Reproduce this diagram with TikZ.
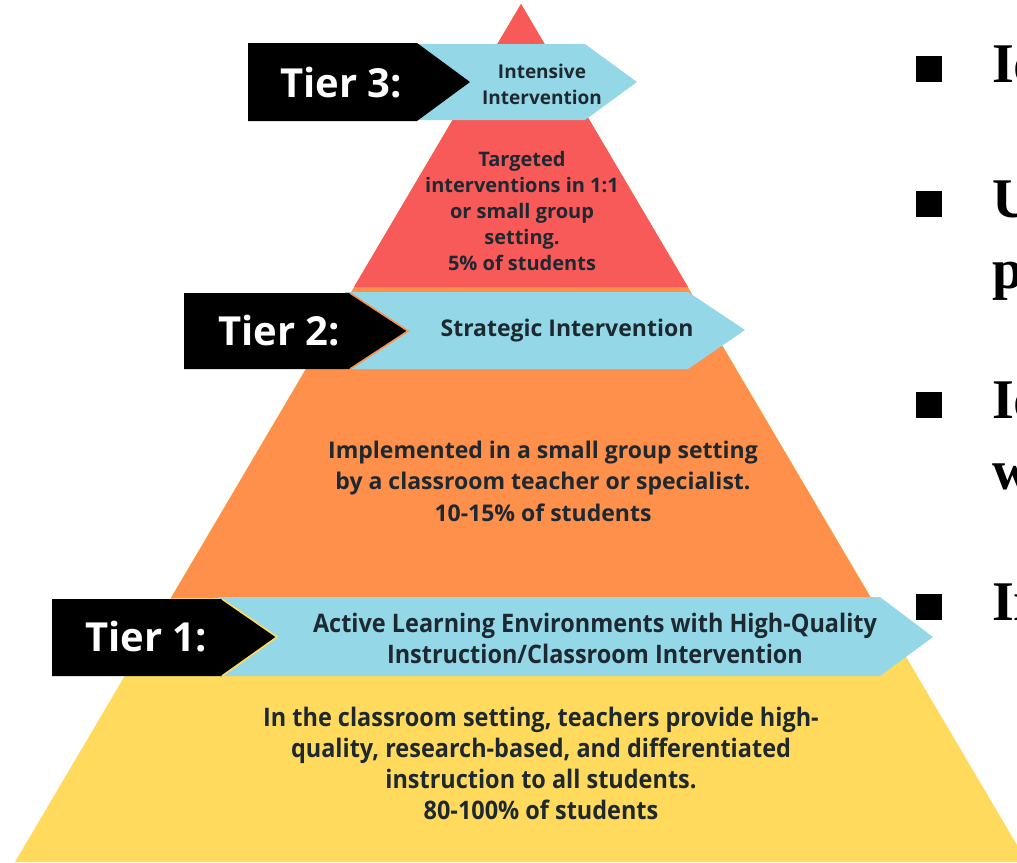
\documentclass[tikz,border=0pt]{standalone}
\usepackage{fontspec}
\setmainfont{Liberation Serif}
\newfontfamily\osf{Open Sans}
\newfontfamily\oscf[FakeStretch=0.92]{Open Sans}
\definecolor{pyrred}{RGB}{248,90,90}
\definecolor{pyrorange}{RGB}{254,144,76}
\definecolor{pyryellow}{RGB}{255,218,92}
\definecolor{bandblue}{RGB}{148,216,232}
\definecolor{txtdark}{RGB}{30,40,48}
\tikzset{
  band/.style={fill=bandblue, draw=none},
  chevron/.style={fill=black, draw=none},
  tipedge/.style={line width=1.6pt, line join=miter},
  tierlabel/.style={font=\osf\bfseries\fontsize{40}{44}\selectfont, text=white, inner sep=0pt},
  pyrtext/.style={text=txtdark, align=center, inner sep=0pt},
  redtxt/.style={pyrtext, font=\osf\bfseries\fontsize{20}{26}\selectfont},
  orangetxt/.style={pyrtext, font=\osf\bfseries\fontsize{23}{31.5}\selectfont},
  condtxt/.style={pyrtext, font=\oscf\bfseries\fontsize{25.5}{31}\selectfont},
  bullet/.style={fill=black, draw=none},
  sidetxt/.style={font=\bfseries\fontsize{56}{60}\selectfont, text=black, inner sep=0pt, anchor=base west},
}
\begin{document}
\begin{tikzpicture}[x=1pt, y=-1pt]
\useasboundingbox (0,0) rectangle (1017,862);
\clip (0,0) rectangle (1017,862);
% pyramid layers
\fill[pyryellow] (521,4) -- (15,862) -- (1027,862) -- cycle;
\fill[pyrorange] (521,4) -- (171,598) -- (871,598) -- cycle;
\fill[pyrred] (521,4) -- (354,287) -- (688,287) -- cycle;
% Tier 3
\fill[band] (410,44) -- (585,44) -- (637,82) -- (585,120) -- (410,120) -- cycle;
\fill[chevron] (248,43) -- (417,43) -- (470,82) -- (417,121) -- (248,121) -- cycle;
\node[tierlabel] (t3) at (341,83) {Tier 3:};
\node[redtxt, font=\osf\bfseries\fontsize{19}{26}\selectfont] (t3band) at (542,84) {Intensive\\Intervention};
\node[redtxt] (t3desc) at (522,211) {Targeted\\interventions in 1:1\\or small group\\setting.\\5\% of students};
% Tier 2
\fill[band] (345,292) -- (688,292) -- (745,330) -- (688,369) -- (345,369) -- cycle;
\fill[chevron] (184,293) -- (350,293) -- (408,331) -- (350,369) -- (184,369) -- cycle;
\draw[tipedge, draw=pyrorange] (350,293) -- (408,331) -- (350,369);
\node[tierlabel] (t2) at (279,331) {Tier 2:};
\node[orangetxt, font=\osf\bfseries\fontsize{23}{26}\selectfont] (t2band) at (567,331) {Strategic Intervention};
\node[orangetxt] (t2desc) at (543,481) {Implemented in a small group setting\\by a classroom teacher or specialist.\\10-15\% of students};
% Tier 1
\fill[band] (218,597) -- (880,597) -- (933,637) -- (880,676) -- (218,676) -- cycle;
\fill[chevron] (52,599) -- (222,599) -- (277,637) -- (222,676) -- (52,676) -- cycle;
\draw[tipedge, draw=pyryellow] (222,599) -- (277,637) -- (222,676);
\node[tierlabel] (t1) at (146,637) {Tier 1:};
\node[condtxt] (t1band) at (595,638) {Active Learning Environments with High-Quality\\Instruction/Classroom Intervention};
\node[condtxt] (t1desc) at (541,763) {In the classroom setting, teachers provide high-\\quality, research-based, and differentiated\\instruction to all students.\\80-100\% of students};
% right-hand bullet list (cut off at the edge, as in the reference)
\fill[bullet] (916,56) rectangle (942,82);
\node[sidetxt] (b1) at (992,82) {Id};
\fill[bullet] (916,191) rectangle (942,217);
\node[sidetxt] (b2) at (992,217) {U};
\node[sidetxt] (b2b) at (992,288) {p};
\fill[bullet] (916,392) rectangle (942,418);
\node[sidetxt] (b3) at (992,418) {Id};
\node[sidetxt] (b3b) at (992,489) {w};
\fill[bullet] (916,594) rectangle (942,620);
\node[sidetxt] (b4) at (992,620) {Im};
\end{tikzpicture}
\end{document}
